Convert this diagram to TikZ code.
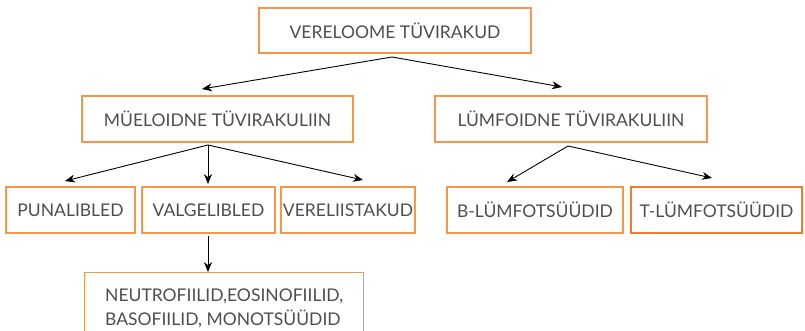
\documentclass[tikz,border=0pt]{standalone}
\usepackage{fontspec}
\setmainfont{Lato}
\usetikzlibrary{arrows.meta}
\definecolor{boxorange}{RGB}{247,150,70}
\definecolor{deeporange}{RGB}{240,125,40}
\definecolor{txtgray}{RGB}{78,78,78}
\begin{document}
\begin{tikzpicture}[x=1pt,y=-1pt,
  box/.style={draw=boxorange, line width=1.2pt, text=txtgray, font=\fontsize{17.5}{24}\selectfont, inner sep=0pt, minimum height=46pt},
  arr/.style={-{Stealth[length=10pt,width=8pt]}, line width=0.9pt, black}]
\useasboundingbox (0,0) rectangle (805,331);
\node[box, minimum width=272pt, minimum height=45pt] (top) at (395,30.5) {VERELOOME TÜVIRAKUD};
\node[box, minimum width=271pt] (mue) at (217.5,119) {MÜELOIDNE TÜVIRAKULIIN};
\node[box, minimum width=272pt] (lum) at (571,119) {LÜMFOIDNE TÜVIRAKULIIN};
\node[box, minimum width=129pt] (pun) at (70.5,210) {PUNALIBLED};
\node[box, minimum width=133pt] (val) at (208.5,210) {VALGELIBLED};
\node[box, minimum width=134pt] (ver) at (348,210) {VERELIISTAKUD};
\node[box, minimum width=176pt] (bl) at (535,210) {B-LÜMFOTSÜÜDID};
\node[box, draw=deeporange, line width=2.5pt, minimum width=171pt] (tl) at (716.5,210) {T-LÜMFOTSÜÜDID};
\node[box, anchor=north west, align=left, minimum width=279pt, inner ysep=12pt, minimum height=72pt] (bot) at (84,272)
  {NEUTROFIILID,EOSINOFIILID,\\BASOFIILID, MONOTSÜÜDID};
% connector end points
\coordinate (topS) at (392,57);
\coordinate (mueT) at (202,89);
\coordinate (lumT) at (562,87);
\coordinate (mueS) at (208,145);
\coordinate (punT) at (65,181);
\coordinate (valT) at (208,184);
\coordinate (verT) at (363,180);
\coordinate (lumS) at (568,146);
\coordinate (blT) at (507,182);
\coordinate (tlT) at (712,178);
\coordinate (valS) at (208,236);
\coordinate (botT) at (208,272);
\draw[arr] (topS) -- (mueT);
\draw[arr] (topS) -- (lumT);
\draw[arr] (mueS) -- (punT);
\draw[arr] (mueS) -- (valT);
\draw[arr] (mueS) -- (verT);
\draw[arr] (lumS) -- (blT);
\draw[arr] (lumS) -- (tlT);
\draw[arr] (valS) -- (botT);
\end{tikzpicture}
\end{document}
